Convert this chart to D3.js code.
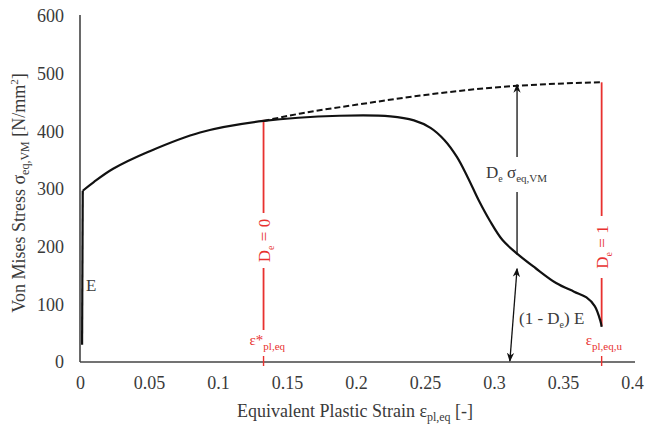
<!DOCTYPE html>
<html><head><meta charset="utf-8">
<script src="https://cdn.jsdelivr.net/npm/d3@7"></script>
<style>body{margin:0;background:#fff}svg{display:block}text{font-family:"Liberation Serif","Times New Roman",serif}</style>
</head><body>
<script>
// ---- data ----
const xTicks = [0, 0.05, 0.1, 0.15, 0.2, 0.25, 0.3, 0.35, 0.4];
const xTickLabels = ["0", "0.05", "0.1", "0.15", "0.2", "0.25", "0.3", "0.35", "0.4"];
const yTicks = [0, 100, 200, 300, 400, 500, 600];
const elasticStrain = [0.0015, 0.002];
const elasticStress = [30, 297];
const curveStrain = [0.002, 0.01, 0.024, 0.05, 0.087, 0.133, 0.188, 0.225, 0.242, 0.254, 0.264, 0.273, 0.281, 0.289, 0.297, 0.306, 0.3167, 0.33, 0.345, 0.358, 0.367, 0.373, 0.377, 0.378];
const curveStress = [297, 312, 335, 365, 398, 418, 427, 426, 419, 406, 385, 356, 320, 280, 245, 212, 188, 163, 137, 122, 112, 97, 72, 61];
const dashStrain = [0.133, 0.16, 0.2, 0.25, 0.3, 0.34, 0.378];
const dashStress = [418, 431, 446, 463, 476, 482, 485];
const damageStrain = [0.133, 0.378];      // D_e = 0 and D_e = 1
const damageTopStress = [420, 485];
const damageLabels = ["0", "1"];
const arrowStrain = 0.3167;
const arrowBaseStrain = 0.3115;
const arrowLowStress = 186;
const arrowHighStress = 481;

// ---- layout ----
const W = 646, H = 429;
const m = {left: 80, top: 16, right: 633, bottom: 362};
const x = d3.scaleLinear().domain([0, 0.4]).range([m.left, 632]);
const y = d3.scaleLinear().domain([0, 600]).range([m.bottom, m.top]);

const svg = d3.select("body").append("svg").attr("width", W).attr("height", H);
const defs = svg.append("defs");
defs.append("marker").attr("id", "ah").attr("viewBox", "0 0 10 10").attr("refX", 9).attr("refY", 5)
  .attr("markerWidth", 7).attr("markerHeight", 7).attr("orient", "auto-start-reverse")
  .append("path").attr("d", "M0,1 L10,5 L0,9 L3,5 Z").attr("fill", "#111");

const axisColor = "#444", textColor = "#3a3a3a";

// axes lines
svg.append("line").attr("x1", x(0)).attr("x2", x(0)).attr("y1", y(600) - 1).attr("y2", y(0))
  .attr("stroke", axisColor).attr("stroke-width", 1.6);
svg.append("line").attr("x1", x(0)).attr("x2", 635).attr("y1", y(0)).attr("y2", y(0))
  .attr("stroke", axisColor).attr("stroke-width", 1.6);

// tick labels (axis generators without tick lines)
const xAxis = d3.axisBottom(x).tickValues(xTicks).tickSize(0).tickPadding(0)
  .tickFormat((d, i) => xTickLabels[i]);
const gx = svg.append("g").attr("transform", `translate(0,${y(0) + 14})`).call(xAxis);
gx.select(".domain").remove();
gx.selectAll("text").attr("font-size", 18).attr("fill", textColor);

const yAxis = d3.axisLeft(y).tickValues(yTicks).tickSize(0).tickPadding(0).tickFormat(d3.format("d"));
const gy = svg.append("g").attr("transform", `translate(${x(0) - 16},0)`).call(yAxis);
gy.select(".domain").remove();
gy.selectAll("text").attr("font-size", 18).attr("fill", textColor);

// axis titles
const xt = svg.append("text").attr("x", 355).attr("y", 417).attr("text-anchor", "middle")
  .attr("font-size", 18).attr("fill", textColor);
xt.append("tspan").text("Equivalent Plastic Strain ε");
xt.append("tspan").attr("font-size", 12).attr("dy", 4).text("pl,eq");
xt.append("tspan").attr("dy", -4).text(" [-]");

const yt = svg.append("text").attr("transform", `translate(25,193) rotate(-90)`).attr("text-anchor", "middle")
  .attr("font-size", 18).attr("fill", textColor);
yt.append("tspan").text("Von Mises Stress σ");
yt.append("tspan").attr("font-size", 12).attr("dy", 4).text("eq,VM");
yt.append("tspan").attr("dy", -4).text(" [N/mm");
yt.append("tspan").attr("font-size", 11).attr("dy", -7).text("2");
yt.append("tspan").attr("dy", 7).text("]");

// red damage lines
const red = "#e8312f";
damageStrain.forEach((s, i) => {
  const xs = x(s);
  const gapTop = 213 + (i === 1 ? 3 : 0), gapBot = 268 + (i === 1 ? 10 : 0);
  svg.append("line").attr("x1", xs).attr("x2", xs).attr("y1", y(damageTopStress[i])).attr("y2", gapTop)
    .attr("stroke", red).attr("stroke-width", 1.8);
  svg.append("line").attr("x1", xs).attr("x2", xs).attr("y1", gapBot).attr("y2", i === 0 ? 330 : 326)
    .attr("stroke", red).attr("stroke-width", 1.8);
  svg.append("line").attr("x1", xs).attr("x2", xs).attr("y1", y(0) - 6).attr("y2", y(0) + 4)
    .attr("stroke", red).attr("stroke-width", 1.4);
  const t = svg.append("text").attr("transform", `translate(${xs + 6},${(gapTop + gapBot) / 2}) rotate(-90)`)
    .attr("text-anchor", "middle").attr("font-size", 17).attr("fill", red);
  t.append("tspan").text("D");
  t.append("tspan").attr("font-size", 10).attr("dy", 4).text("e");
  t.append("tspan").attr("dy", -4).text(" = " + damageLabels[i]);
});
// strain labels
const l1 = svg.append("text").attr("x", x(damageStrain[0]) - 14).attr("y", 345).attr("font-size", 15).attr("fill", red);
l1.append("tspan").text("ε*");
l1.append("tspan").attr("font-size", 11).attr("dy", 5).text("pl,eq");
const l2 = svg.append("text").attr("x", x(damageStrain[1]) - 16).attr("y", 345).attr("font-size", 15).attr("fill", red);
l2.append("tspan").text("ε");
l2.append("tspan").attr("font-size", 11).attr("dy", 5).text("pl,eq,u");

// curves
const line = d3.line().x(d => x(d[0])).y(d => y(d[1])).curve(d3.curveMonotoneX);
svg.append("path").datum(elasticStrain.map((s, i) => [s, elasticStress[i]]))
  .attr("d", d3.line().x(d => x(d[0])).y(d => y(d[1]))).attr("stroke", "#111").attr("stroke-width", 2.2).attr("fill", "none");
svg.append("path").datum(dashStrain.map((s, i) => [s, dashStress[i]]))
  .attr("d", line).attr("stroke", "#111").attr("stroke-width", 2).attr("stroke-dasharray", "6,3").attr("fill", "none");
svg.append("path").datum(curveStrain.map((s, i) => [s, curveStress[i]]))
  .attr("d", d3.line().x(d => x(d[0])).y(d => y(d[1])).curve(d3.curveCatmullRom.alpha(0.5)))
  .attr("stroke", "#111").attr("stroke-width", 2.2).attr("fill", "none");

// E label
svg.append("text").attr("x", 86).attr("y", 291).attr("font-size", 17).attr("fill", textColor).text("E");

// D_e sigma arrow (upwards, broken by label)
const ax = x(arrowStrain);
svg.append("line").attr("x1", ax).attr("x2", ax).attr("y1", 157).attr("y2", y(arrowHighStress))
  .attr("stroke", "#111").attr("stroke-width", 1.3).attr("marker-end", "url(#ah)");
svg.append("line").attr("x1", ax).attr("x2", ax).attr("y1", y(arrowLowStress)).attr("y2", 192)
  .attr("stroke", "#111").attr("stroke-width", 1.3);
const dl = svg.append("text").attr("x", 486).attr("y", 178).attr("font-size", 17).attr("fill", textColor);
dl.append("tspan").text("D");
dl.append("tspan").attr("font-size", 10).attr("dy", 4).text("e");
dl.append("tspan").attr("dy", -4).text(" σ");
dl.append("tspan").attr("font-size", 11).attr("dy", 4).text("eq,VM");

// (1-De)E arrow, double headed
svg.append("line").attr("x1", x(arrowBaseStrain)).attr("x2", ax).attr("y1", y(0) - 1).attr("y2", y(arrowLowStress) + 14)
  .attr("stroke", "#111").attr("stroke-width", 1.3).attr("marker-start", "url(#ah)").attr("marker-end", "url(#ah)");
const el = svg.append("text").attr("x", 519).attr("y", 324).attr("font-size", 17).attr("fill", textColor);
el.append("tspan").text("(1 - D");
el.append("tspan").attr("font-size", 10).attr("dy", 4).text("e");
el.append("tspan").attr("dy", -4).text(") E");
</script>
</body></html>
